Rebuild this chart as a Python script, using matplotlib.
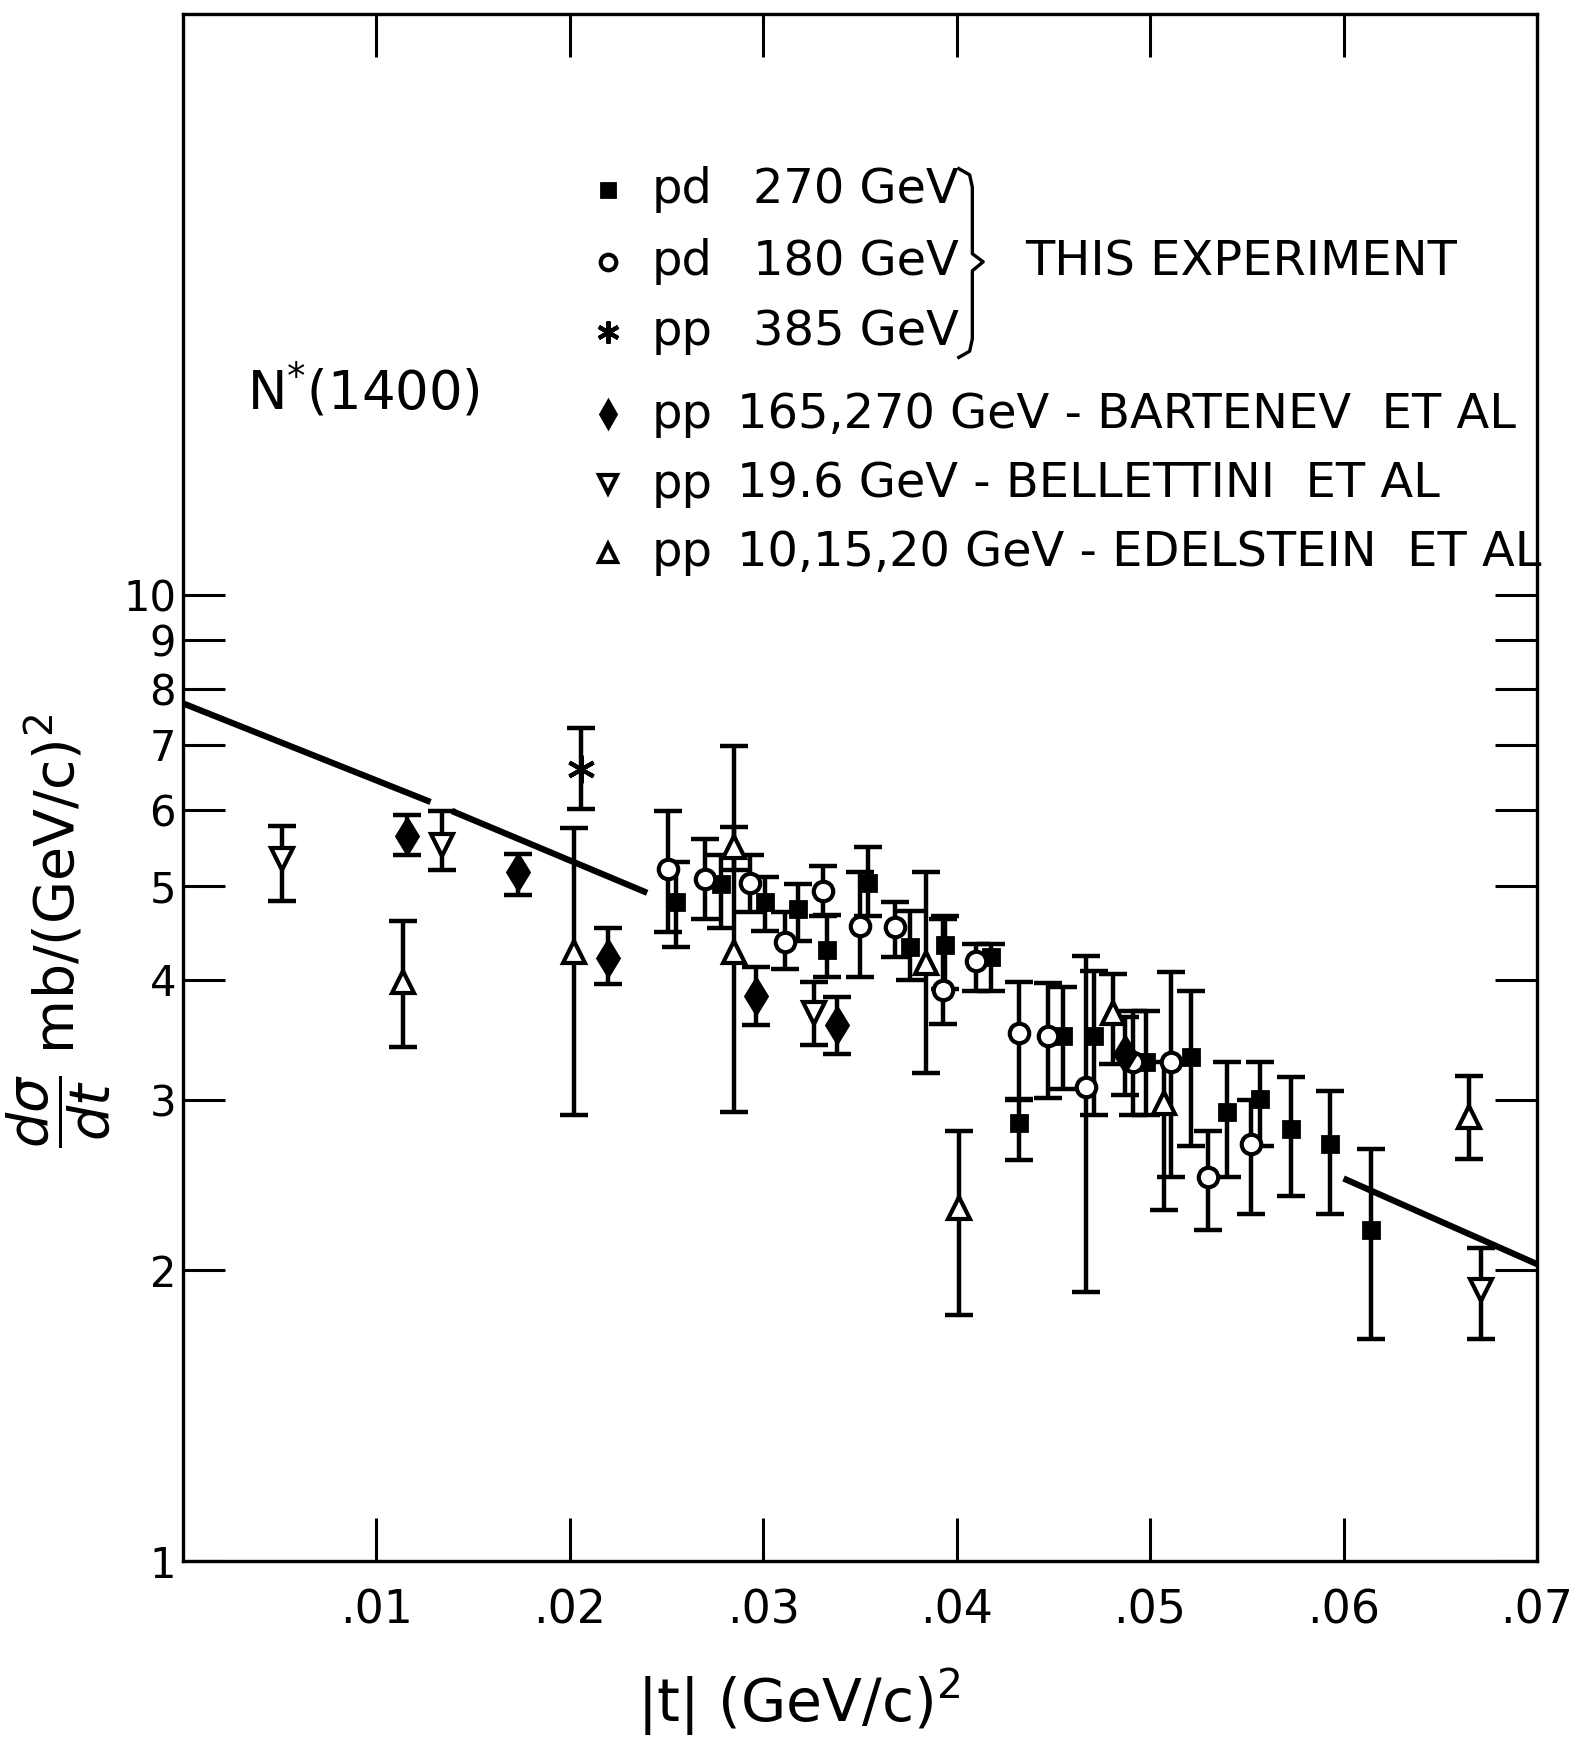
import matplotlib
matplotlib.use("Agg")
import matplotlib.pyplot as plt
import numpy as np

# Datos: |t| en (GeV/c)^2, dsigma/dt en mb/(GeV/c)^2
# pd 270 GeV (cuadrado lleno)
t_pd270 = [0.0255, 0.0278, 0.0301, 0.0318, 0.0333, 0.0354, 0.0376, 0.0394, 0.0418, 0.0432,
           0.0455, 0.0471, 0.0498, 0.0521, 0.0540, 0.0557, 0.0573, 0.0593, 0.0614]
y_pd270 = [4.81, 5.03, 4.81, 4.73, 4.29, 5.04, 4.32, 4.34, 4.22, 2.84,
           3.50, 3.50, 3.29, 3.33, 2.92, 3.01, 2.80, 2.70, 2.20]
lo_pd270 = [4.32, 4.52, 4.49, 4.39, 4.03, 4.66, 4.00, 3.91, 3.89, 2.60,
            3.08, 2.90, 2.90, 2.69, 2.50, 2.69, 2.39, 2.29, 1.70]
hi_pd270 = [5.29, 5.38, 5.11, 5.03, 4.67, 5.49, 4.71, 4.65, 4.35, 3.01,
            3.93, 4.08, 3.71, 3.89, 3.29, 3.29, 3.17, 3.07, 2.67]

# pd 180 GeV (circulo abierto)
t_pd180 = [0.0251, 0.0270, 0.0293, 0.0311, 0.0331, 0.0350, 0.0368, 0.0393, 0.0410, 0.0432,
           0.0447, 0.0467, 0.0491, 0.0511, 0.0530, 0.0552]
y_pd180 = [5.21, 5.08, 5.04, 4.38, 4.94, 4.55, 4.54, 3.90, 4.18, 3.52,
           3.50, 3.10, 3.29, 3.29, 2.50, 2.70]
lo_pd180 = [4.48, 4.62, 4.70, 4.10, 4.65, 4.03, 4.22, 3.60, 3.89, 3.00,
            3.02, 1.90, 2.90, 2.50, 2.20, 2.29]
hi_pd180 = [5.98, 5.59, 5.38, 4.70, 5.24, 5.17, 4.81, 4.62, 4.35, 3.98,
            3.97, 4.23, 3.71, 4.07, 2.79, 3.00]

# pp 385 GeV (asterisco)
t_pp385 = [0.0206]
y_pp385 = [6.61]
lo_pp385 = [6.01]
hi_pp385 = [7.29]

# Bartenev et al (rombo lleno)
t_bart = [0.0116, 0.0173, 0.0220, 0.0296, 0.0338, 0.0487]
y_bart = [5.64, 5.17, 4.21, 3.85, 3.59, 3.35]
lo_bart = [5.38, 4.90, 3.96, 3.59, 3.35, 3.04]
hi_bart = [5.93, 5.40, 4.52, 4.12, 3.84, 3.66]

# Bellettini et al (triangulo hacia abajo)
t_bell = [0.0051, 0.0134, 0.0326, 0.0671]
y_bell = [5.33, 5.52, 3.69, 1.91]
lo_bell = [4.83, 5.19, 3.42, 1.70]
hi_bell = [5.77, 5.98, 3.98, 2.11]

# Edelstein et al (triangulo hacia arriba)
t_edel = [0.0114, 0.0202, 0.0285, 0.0285, 0.0384, 0.0401, 0.0481, 0.0507, 0.0665]
y_edel = [3.98, 4.27, 5.49, 4.27, 4.16, 2.32, 3.69, 2.98, 2.88]
lo_edel = [3.41, 2.90, 5.20, 2.92, 3.20, 1.80, 3.27, 2.31, 2.61]
hi_edel = [4.60, 5.74, 5.75, 6.99, 5.17, 2.79, 4.05, 3.29, 3.18]

# Recta de ajuste (tramos dibujados)
fit_t = [[0.0, 0.0128], [0.0139, 0.0240], [0.0600, 0.0700]]
fit_y = [[7.73, 6.11], [5.98, 4.92], [2.49, 2.03]]

x_ticks = [0.01, 0.02, 0.03, 0.04, 0.05, 0.06, 0.07]
x_labels = [".01", ".02", ".03", ".04", ".05", ".06", ".07"]
y_ticks = [1, 2, 3, 4, 5, 6, 7, 8, 9, 10]
y_labels = ["1", "2", "3", "4", "5", "6", "7", "8", "9", "10"]

plt.rcParams['font.family'] = ['DejaVu Sans']

fig = plt.figure(figsize=(15.73, 17.44), dpi=100)
ax = fig.add_axes([0.1163, 0.1049, 0.8608, 0.8871])
ax.set_yscale('log')
ax.set_xlim(0, 0.07)
ax.set_ylim(1, 40)

series = [
    (t_pd270, y_pd270, lo_pd270, hi_pd270, dict(marker='s', ms=12, mfc='black', mec='black', mew=2)),
    (t_pd180, y_pd180, lo_pd180, hi_pd180, dict(marker='o', ms=14, mfc='white', mec='black', mew=3)),
    (t_pp385, y_pp385, lo_pp385, hi_pp385, dict(marker=(6, 2, 0), ms=20, mfc='black', mec='black', mew=3)),
    (t_bart, y_bart, lo_bart, hi_bart, dict(marker='d', ms=18, mfc='black', mec='black', mew=2)),
    (t_bell, y_bell, lo_bell, hi_bell, dict(marker='v', ms=16, mfc='white', mec='black', mew=3)),
    (t_edel, y_edel, lo_edel, hi_edel, dict(marker='^', ms=16, mfc='white', mec='black', mew=3)),
]

for t, y, lo, hi, estilo in series:
    y = np.array(y)
    yerr = [y - np.array(lo), np.array(hi) - y]
    ax.errorbar(t, y, yerr=yerr, fmt='none', ecolor='black', elinewidth=3.2,
                capsize=10, capthick=3.2, zorder=3)
    ax.plot(t, y, linestyle='none', zorder=4, **estilo)

for ts, ys in zip(fit_t, fit_y):
    ax.plot(ts, ys, color='black', lw=4.5, solid_capstyle='butt', zorder=2)

# Ejes y marcas
for s in ax.spines.values():
    s.set_linewidth(2.4)
ax.set_xticks(x_ticks)
ax.set_xticklabels(x_labels)
ax.set_yticks(y_ticks)
ax.set_yticklabels(y_labels)
ax.yaxis.set_minor_locator(matplotlib.ticker.NullLocator())
ax.tick_params(axis='x', direction='in', length=31, width=2.2, top=True, pad=20, labelsize=33)
ax.tick_params(axis='y', direction='in', length=30, width=2.2, right=True, pad=5, labelsize=30)

# Leyenda dibujada a mano
tr = ax.transAxes
filas = [0.8865, 0.8398, 0.7945, 0.7414, 0.6961, 0.6516]
marcas = [s[4] for s in series]
textos_a = ["pd", "pd", "pp", "pp", "pp", "pp"]
textos_b = ["270 GeV", "180 GeV", "385 GeV",
            "165,270 GeV - BARTENEV  ET AL",
            "19.6 GeV - BELLETTINI  ET AL",
            "10,15,20 GeV - EDELSTEIN  ET AL"]
for i, yy in enumerate(filas):
    m = dict(marcas[i])
    m['ms'] = m['ms'] * 0.8
    ax.plot([0.314], [yy], transform=tr, linestyle='none', clip_on=False, **m)
    ax.text(0.346, yy, textos_a[i], transform=tr, fontsize=34.5, va='center', ha='left')
    xb = 0.421 if i < 3 else 0.409
    ax.text(xb, yy, textos_b[i], transform=tr, fontsize=34.5, va='center', ha='left')

# Llave "}"
bx = 0.583
ax.plot([bx - 0.010, bx - 0.002, bx, bx, bx + 0.008, bx, bx, bx - 0.002, bx - 0.010],
        [0.900, 0.896, 0.888, 0.845, 0.8398, 0.834, 0.790, 0.782, 0.778],
        transform=tr, color='black', lw=2.4, clip_on=False)
ax.text(0.622, 0.8398, "THIS EXPERIMENT", transform=tr, fontsize=34.5, va='center', ha='left')

ax.text(0.047, 0.757, r"N$^{*}$(1400)", transform=tr, fontsize=38, va='center', ha='left')

# Titulos de ejes
fig.text(0.508, 0.024, r"|t| (GeV/c)$^2$", fontsize=42, ha='center', va='center')
fig.text(0.037, 0.466, r"$\dfrac{d\sigma}{dt}$ mb/(GeV/c)$^2$", fontsize=40,
         rotation=90, ha='center', va='center')

fig.savefig("out.png", dpi=100)
